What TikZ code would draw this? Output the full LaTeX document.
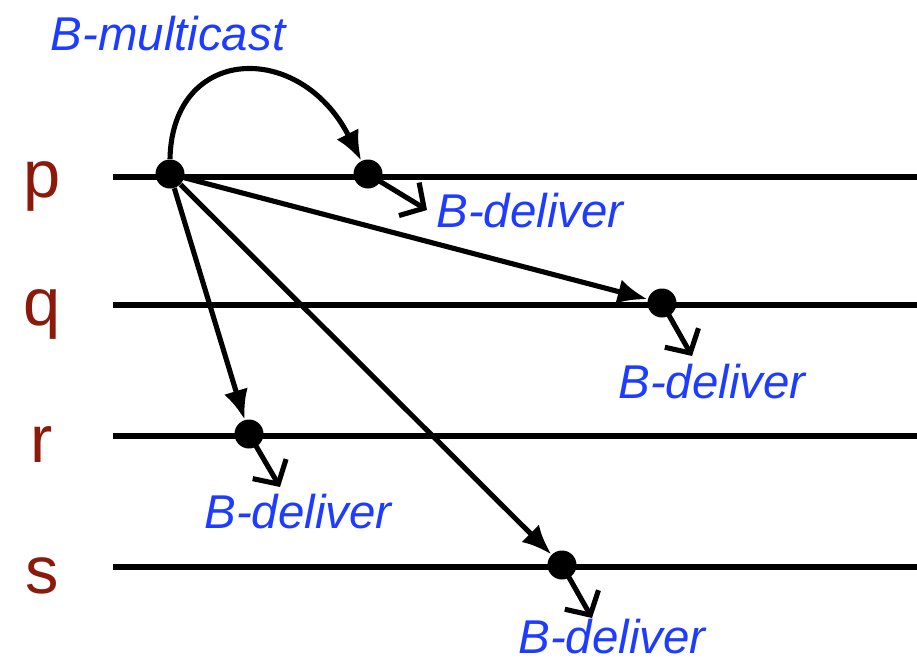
\documentclass[tikz,border=0pt]{standalone}
\usepackage{fontspec}
\setmainfont{Liberation Sans}
\usetikzlibrary{arrows.meta}
\definecolor{procred}{RGB}{139,26,10}
\definecolor{evblue}{RGB}{30,60,255}
\tikzset{
  dot/.style={circle, fill=black, inner sep=0pt, minimum size=29*0.02cm},
  procline/.style={line width=3.2pt},
  msg/.style={line width=2.9pt, -{Latex[length=17pt, width=14pt]}},
  dlv/.style={line width=2.9pt, -{Straight Barb[length=10pt, width=22pt, line width=2.9pt]}},
  evlabel/.style={text=evblue, font=\fontsize{27}{30}\selectfont\itshape},
  proclabel/.style={text=procred, font=\fontsize{38}{40}\selectfont}
}
\begin{document}
\begin{tikzpicture}[x=0.02cm, y=-0.02cm]
    \useasboundingbox (0,0) rectangle (917,663);

    % process lines
    \foreach \name/\y in {p/177, q/305, r/436, s/567} {
        \draw[procline] (113,\y) -- (917,\y);
        \node[proclabel] (lab-\name) at (42,\y+9) {\name};
    }

    % events
    \node[dot] (send) at (170,174) {};
    \node[dot] (dp) at (368,174) {};
    \node[dot] (dq) at (662,303) {};
    \node[dot] (dr) at (249,434) {};
    \node[dot] (ds) at (562,565) {};

    % ends of the deliver arrows
    \coordinate (ep) at (427,210);
    \coordinate (eq) at (692,356);
    \coordinate (er) at (280,487);
    \coordinate (es) at (592,618);

    % messages
    \draw[msg] (send.north) .. controls (172,45) and (300,40) .. (dp);
    \draw[msg] (send) -- (dq);
    \draw[msg] (send) -- (dr);
    \draw[msg] (send) -- (ds);

    % deliveries
    \draw[dlv] (dp.center) -- (ep);
    \draw[dlv] (dq.center) -- (eq);
    \draw[dlv] (dr.center) -- (er);
    \draw[dlv] (ds.center) -- (es);

    % labels
    \node[evlabel] (mc) at (168,34) {B-multicast};
    \node[evlabel] (lp) at (530,211) {B-deliver};
    \node[evlabel] (lq) at (712,382) {B-deliver};
    \node[evlabel] (lr) at (298,512) {B-deliver};
    \node[evlabel] (ls) at (612,637) {B-deliver};
\end{tikzpicture}
\end{document}
